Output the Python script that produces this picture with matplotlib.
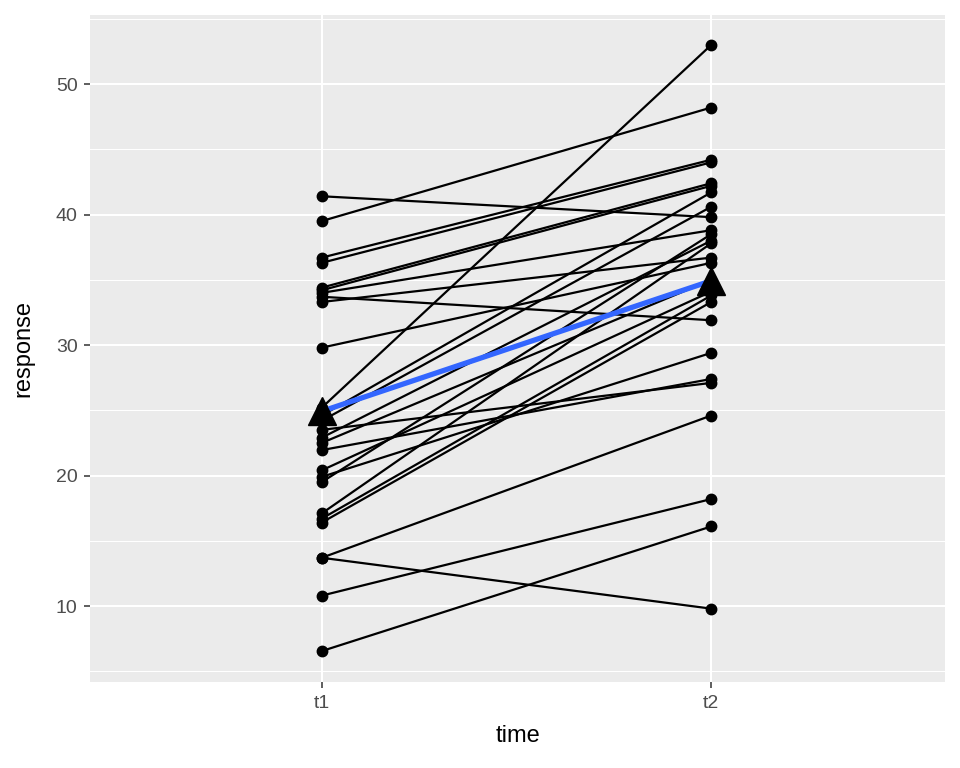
import numpy as np
import matplotlib
matplotlib.use("Agg")
import matplotlib.pyplot as plt

# paired responses per subject
time_labels = ["t1", "t2"]
response_t1 = [41.4, 39.5, 36.7, 36.3, 34.4, 34.2, 34.0, 33.7, 33.3, 29.8,
               25.2, 24.6, 24.2, 23.5, 22.9, 22.5, 21.95, 20.4, 19.9, 19.5,
               17.1, 16.7, 16.4, 13.7, 13.7, 10.8, 6.55]
response_t2 = [39.8, 48.2, 44.2, 44.0, 42.4, 42.2, 38.8, 31.9, 36.7, 36.3,
               53.0, 41.7, 40.6, 27.1, 38.0, 35.0, 27.4, 34.1, 29.4, 38.5,
               37.8, 33.8, 33.3, 24.6, 9.8, 18.2, 16.1]

plt.rcParams['font.family'] = ['Liberation Sans', 'DejaVu Sans']

fig = plt.figure(figsize=(9.6, 7.68), dpi=100)
ax = fig.add_axes([90 / 960, 1 - 682 / 768, (945 - 90) / 960, (682 - 15) / 768])

ax.set_facecolor('#EBEBEB')
for s in ax.spines.values():
    s.set_visible(False)

xpos = np.arange(1, len(time_labels) + 1)

# grid
for v in [5, 15, 25, 35, 45, 55]:
    ax.axhline(v, color='white', lw=0.75, zorder=0)
for v in [10, 20, 30, 40, 50]:
    ax.axhline(v, color='white', lw=1.5, zorder=0)
for x in xpos:
    ax.axvline(x, color='white', lw=1.5, zorder=0)

# subject lines and points
for a, b in zip(response_t1, response_t2):
    ax.plot(xpos, [a, b], color='black', lw=1.6, zorder=2, solid_capstyle='butt')
    ax.plot(xpos, [a, b], 'o', color='black', ms=7.5, zorder=3)

# mean line and mean markers
means = [np.mean(response_t1), np.mean(response_t2)]
ax.plot(xpos, means, color='#3366FF', lw=3.8, zorder=4, solid_capstyle='butt')
ax.plot(xpos, means, '^', color='black', ms=20, zorder=5)

ax.set_xlim(0.405, 2.6)
ax.set_ylim(4.18, 55.29)
ax.set_xticks(xpos)
ax.set_xticklabels(time_labels)
ax.set_yticks([10, 20, 30, 40, 50])
ax.tick_params(axis='both', colors='#333333', length=4, width=1.1,
               labelsize=14, labelcolor='#4D4D4D', pad=5)

ax.set_xlabel('time', fontsize=17, color='black', labelpad=10)
ax.set_ylabel('response', fontsize=17, color='black', labelpad=15)

fig.savefig('out.png', dpi=100, facecolor='white')
